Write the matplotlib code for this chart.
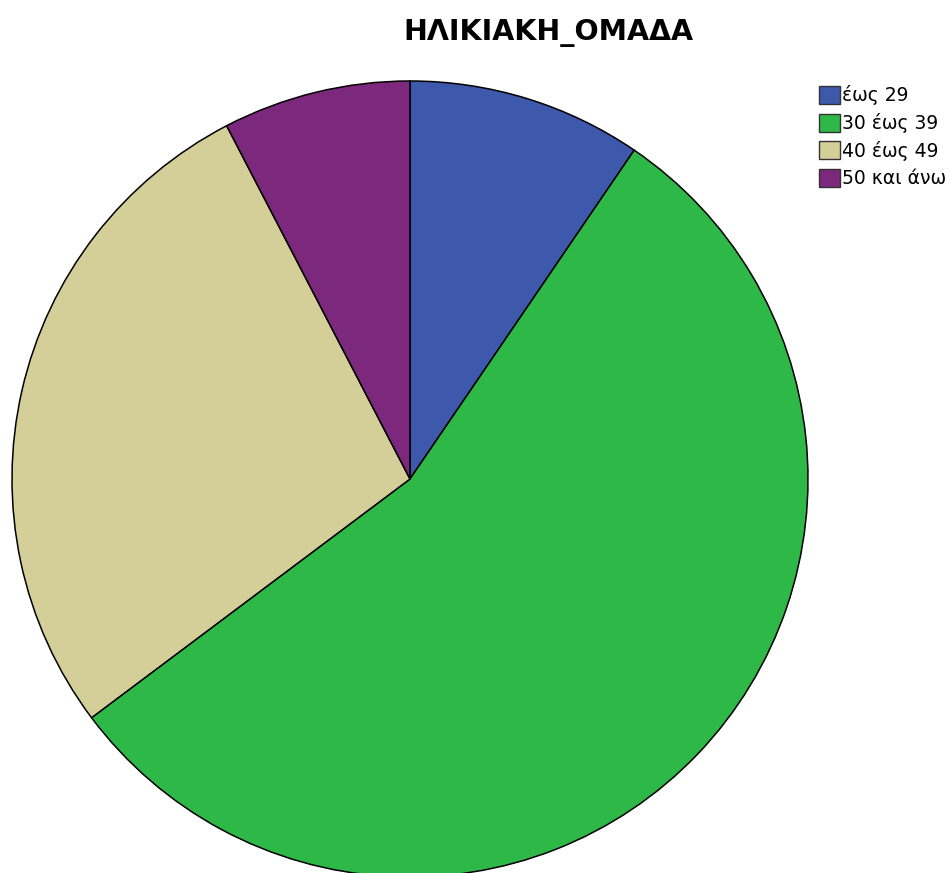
import matplotlib.pyplot as plt
from matplotlib.patches import Patch

# age groups and counts
labels = ['έως 29', '30 έως 39', '40 έως 49', '50 και άνω']
counts = [10, 58, 29, 8]
colors = ['#3E58AC', '#2EB848', '#D4CE98', '#7C287C']

plt.rcParams['font.family'] = ['DejaVu Sans']

W, H = 950, 873
fig = plt.figure(figsize=(W / 100, H / 100), dpi=100)

# pie: center (410, 479) px, radius 398 px
cx, cy, r = 410, 479, 398
ax = fig.add_axes([(cx - r) / W, (H - cy - r) / H, 2 * r / W, 2 * r / H])
ax.pie(counts, colors=colors, startangle=90, counterclock=False, radius=1,
       wedgeprops=dict(edgecolor='black', linewidth=1.1))
ax.set_xlim(-1, 1)
ax.set_ylim(-1, 1)
ax.set_aspect('auto')
ax.axis('off')

fig.text(548 / W, 1 - 33 / H, 'ΗΛΙΚΙΑΚΗ_ΟΜΑΔΑ', ha='center', va='center',
         fontsize=20.5, fontweight='bold')

handles = [Patch(facecolor=c, edgecolor='#333333', linewidth=1.0) for c in colors]
fig.legend(handles, labels, loc='upper left', bbox_to_anchor=(819 / W, 1 - 85 / H),
           frameon=False, fontsize=13.5, handlelength=1.1, handleheight=1.1,
           handletextpad=0.15, labelspacing=0.42, borderpad=0, borderaxespad=0)

fig.savefig('out.png', dpi=100)
